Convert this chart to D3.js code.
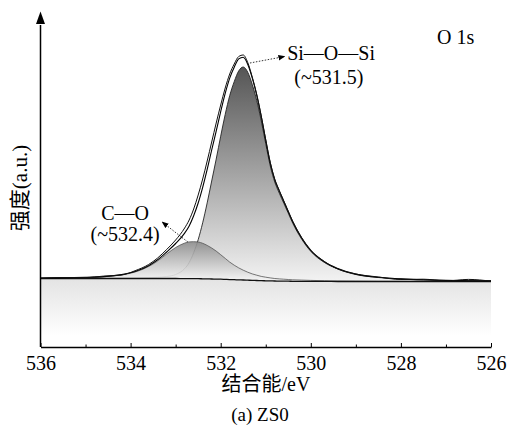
<!DOCTYPE html>
<html>
<head>
<meta charset="utf-8">
<style>
  body { margin: 0; background: #fff; }
  svg { display: block; }
</style>
</head>
<body>
<svg></svg>
<script src="https://cdn.jsdelivr.net/npm/d3@7/dist/d3.min.js"></script>
<script>
  // binding energy grid (eV) and intensities (a.u.)
  const energy = [536, 535.5, 535, 534.6, 534.2, 533.9, 533.6, 533.4, 533.2, 533.0, 532.8, 532.7, 532.6, 532.5, 532.4,
    532.3, 532.2, 532.1, 532.0, 531.9, 531.8, 531.7, 531.6, 531.5, 531.4, 531.3, 531.2, 531.1, 531.0, 530.9, 530.8,
    530.7, 530.6, 530.5, 530.4, 530.2, 530.0, 529.7, 529.4, 529.0, 528.5, 528.0, 527.5, 527.0, 526.5, 526.0];
  const background = [1.5, 1.5, 1.5, 1.5, 1.5, 1.5, 1.5, 1.5, 1.5, 1.5, 1.4, 1.4, 1.3, 1.3, 1.2,
    1.1, 1.0, 0.9, 0.8, 0.6, 0.4, 0.3, 0.1, 0, -0.2, -0.4, -0.5, -0.7, -0.8, -0.9, -1.0,
    -1.1, -1.2, -1.2, -1.3, -1.3, -1.4, -1.4, -1.5, -1.5, -1.5, -1.5, -1.5, -1.5, -1.5, -1.5];
  const siOSi = [0.1, 0.1, 0.2, 0.2, 0.3, 0.5, 0.8, 1.2, 2, 4, 10, 16, 26, 39, 56,
    76, 98, 120, 143, 165, 184, 198, 209, 213, 208, 196, 180, 160, 137, 115, 99,
    88, 78, 68, 58, 42, 30, 19, 12.5, 7, 4, 2.5, 1.6, 1, 0.7, 0.5];
  const cO = [0.3, 0.6, 1.0, 1.7, 3.6, 6.5, 12, 17.5, 24.5, 31, 35.5, 36.7, 37, 36.7, 35.5,
    33.5, 31, 28, 24.5, 21, 17.5, 14.5, 12, 9.8, 8, 6.5, 5.3, 4.3, 3.6, 3.0, 2.5,
    2.2, 2.0, 1.7, 1.5, 1.2, 1.0, 0.7, 0.5, 0.35, 0.2, 0.15, 0.1, 0.1, 0.1, 0.1];
  const measured = [1.6, 2.5, 2.4, 3.9, 5.0, 9.3, 15.5, 22, 30.5, 40, 52, 60, 71, 85, 101,
    119, 138, 157, 175, 192, 206, 216, 223.5, 225, 217.5, 203, 185.5, 164, 140, 117.5, 100.5,
    89.5, 79, 68.5, 58.5, 42, 29.5, 18.5, 11, 6, 3, 0.5, 0.8, -0.9, 0.6, -1.2];
  const xTicks = [536, 534, 532, 530, 528, 526];
  const xMinor = [535, 533, 531, 529, 527];

  const width = 509;
  const height = 432;
  const serif = 'Liberation Serif, Times New Roman, serif';
  const cjk = 'Liberation Serif, Noto Sans CJK SC, serif';
  const svg = d3.select('svg').attr('width', width).attr('height', height);

  const x = d3.scaleLinear().domain([536, 526]).range([40.5, 491]);
  const y = d3.scaleLinear().domain([-67, 268]).range([347, 12]);

  const rows = energy.map((e, i) => ({
    e: e, bg: background[i], si: siOSi[i], co: cO[i], raw: measured[i]
  }));

  const defs = svg.append('defs');
  function vGrad(id, y1, y2, c1, c2) {
    const g = defs.append('linearGradient').attr('id', id)
      .attr('gradientUnits', 'userSpaceOnUse')
      .attr('x1', 0).attr('x2', 0).attr('y1', y1).attr('y2', y2);
    g.append('stop').attr('offset', 0).attr('stop-color', c1);
    g.append('stop').attr('offset', 1).attr('stop-color', c2);
  }
  vGrad('gSi', y(213), y(0), '#555555', '#f2f2f2');
  vGrad('gCo', y(37), y(0), '#8e8e8e', '#f3f3f3');
  vGrad('gBase', y(0), y(-56), '#e4e4e4', '#ffffff');

  const curve = d3.curveMonotoneX;

  // region under the background line
  svg.append('path')
    .datum(rows)
    .attr('d', d3.area().curve(curve).x(d => x(d.e)).y0(y(-67)).y1(d => y(d.bg)))
    .attr('fill', 'url(#gBase)');

  // Si-O-Si component
  svg.append('path')
    .datum(rows)
    .attr('d', d3.area().curve(curve).x(d => x(d.e)).y0(d => y(d.bg)).y1(d => y(d.bg + d.si)))
    .attr('fill', 'url(#gSi)');
  svg.append('path')
    .datum(rows)
    .attr('d', d3.line().curve(curve).x(d => x(d.e)).y(d => y(d.bg + d.si)))
    .attr('fill', 'none').attr('stroke', '#222').attr('stroke-width', 0.9);

  // C-O component
  svg.append('path')
    .datum(rows)
    .attr('d', d3.area().curve(curve).x(d => x(d.e)).y0(d => y(d.bg)).y1(d => y(d.bg + d.co)))
    .attr('fill', 'url(#gCo)').attr('fill-opacity', 0.9);
  svg.append('path')
    .datum(rows)
    .attr('d', d3.line().curve(curve).x(d => x(d.e)).y(d => y(d.bg + d.co)))
    .attr('fill', 'none').attr('stroke', '#555').attr('stroke-width', 0.8);

  // background, fit envelope and measured spectrum
  svg.append('path')
    .datum(rows)
    .attr('d', d3.line().curve(curve).x(d => x(d.e)).y(d => y(d.bg)))
    .attr('fill', 'none').attr('stroke', '#111').attr('stroke-width', 1.3);
  svg.append('path')
    .datum(rows)
    .attr('d', d3.line().curve(curve).x(d => x(d.e)).y(d => y(d.bg + d.si + d.co)))
    .attr('fill', 'none').attr('stroke', '#000').attr('stroke-width', 1.1);
  svg.append('path')
    .datum(rows)
    .attr('d', d3.line().curve(curve).x(d => x(d.e)).y(d => y(d.raw)))
    .attr('fill', 'none').attr('stroke', '#111').attr('stroke-width', 1);

  // x axis, ticks pointing inward
  const gx = svg.append('g').attr('transform', `translate(0,${y(-67)})`);
  gx.call(d3.axisBottom(x).tickValues(xTicks).tickFormat(d3.format('d'))
      .tickSizeInner(-4).tickSizeOuter(0).tickPadding(9));
  gx.append('g').call(d3.axisBottom(x).tickValues(xMinor).tickFormat('')
      .tickSizeInner(-2.5).tickSizeOuter(0))
    .select('.domain').remove();
  gx.attr('font-family', serif).attr('font-size', 20);
  gx.selectAll('.domain').attr('stroke', '#000').attr('stroke-width', 1.5);
  gx.selectAll('.tick line').attr('stroke', '#000').attr('stroke-width', 1);
  gx.selectAll('.tick text').attr('font-family', serif).attr('font-size', 20).attr('fill', '#000');

  // y axis with arrow head
  svg.append('line')
    .attr('x1', x(536)).attr('x2', x(536))
    .attr('y1', y(-67)).attr('y2', y(255))
    .attr('stroke', '#000').attr('stroke-width', 1.5);
  svg.append('path')
    .attr('d', `M${x(536)},${y(268) - 0.5}L${x(536) - 4.5},${y(256)}L${x(536) + 4.5},${y(256)}Z`)
    .attr('fill', '#000');

  // peak annotations
  defs.append('marker').attr('id', 'head')
    .attr('viewBox', '0 0 10 10').attr('refX', 9).attr('refY', 5)
    .attr('markerWidth', 7).attr('markerHeight', 7).attr('orient', 'auto')
    .attr('markerUnits', 'userSpaceOnUse')
    .append('path').attr('d', 'M0,1L10,5L0,9Z').attr('fill', '#000');

  const arrows = [
    { from: [531.35, 217], to: [530.58, 223.5] },
    { from: [532.73, 38], to: [533.3, 58] }
  ];
  svg.selectAll('.ann')
    .data(arrows)
    .enter().append('line')
    .attr('class', 'ann')
    .attr('x1', d => x(d.from[0])).attr('y1', d => y(d.from[1]))
    .attr('x2', d => x(d.to[0])).attr('y2', d => y(d.to[1]))
    .attr('stroke', '#000').attr('stroke-width', 0.8)
    .attr('stroke-dasharray', '1.5,1.5')
    .attr('marker-end', 'url(#head)');

  const labels = [
    { text: 'Si\u2014O\u2014Si', e: 529.55, v: 220 },
    { text: '(~531.5)', e: 529.6, v: 196 },
    { text: 'C\u2014O', e: 534.12, v: 60 },
    { text: '(~532.4)', e: 534.12, v: 39 }
  ];
  svg.selectAll('.lbl')
    .data(labels)
    .enter().append('text')
    .attr('class', 'lbl')
    .attr('x', d => x(d.e)).attr('y', d => y(d.v))
    .attr('text-anchor', 'middle')
    .attr('font-family', serif).attr('font-size', 20)
    .text(d => d.text);

  svg.append('text')
    .attr('x', 437).attr('y', 44)
    .attr('font-family', serif).attr('font-size', 20)
    .text('O 1s');

  // axis titles
  svg.append('text')
    .attr('transform', 'translate(27,188) rotate(-90)')
    .attr('text-anchor', 'middle')
    .attr('font-family', cjk).attr('font-size', 21)
    .text('强度(a.u.)');
  svg.append('text')
    .attr('x', 266).attr('y', 391)
    .attr('text-anchor', 'middle')
    .attr('font-family', cjk).attr('font-size', 20)
    .text('结合能/eV');
  svg.append('text')
    .attr('x', 260).attr('y', 421)
    .attr('text-anchor', 'middle')
    .attr('font-family', serif).attr('font-size', 19)
    .text('(a) ZS0');
</script>
</body>
</html>
